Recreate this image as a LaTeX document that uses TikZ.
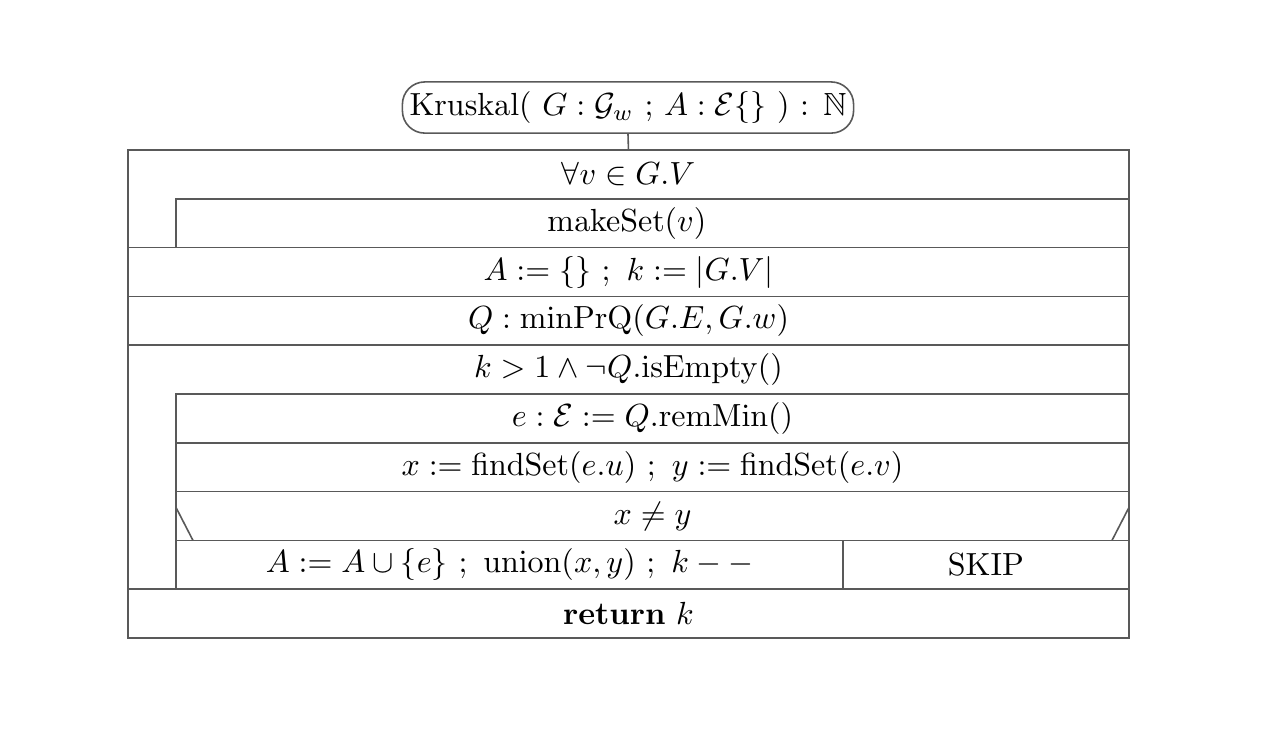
\documentclass[tikz,border=0pt]{standalone}
\usepackage{amsmath,amssymb}
\usetikzlibrary{positioning,calc}

\begin{document}
\begin{tikzpicture}[
  x=1pt, y=1pt, line width=0.5pt,
  row/.style={rectangle,minimum width=312.8pt,minimum height=15.25pt,
    inner sep=0pt,outer sep=0pt,anchor=north west},
  blk/.style={row,draw=black!65},
  sub/.style={blk,minimum width=297.8pt},
  frame/.style={draw=black!65},
  hdr/.style={draw=black!65,rounded corners=7pt,minimum width=141pt,
    minimum height=16pt,inner sep=0pt}
]
\useasboundingbox (0,0) rectangle (400,-233.1);

% Header
\node[hdr] (head) at (196.25,-33.6)
  {Kruskal( $G : \mathcal{G}_w$ ; $A : \mathcal{E}\{\}$ ) : $\mathbb{N}$};

% Loop over vertices
\node[row] (forall) at (40,-46.875) {$\forall v \in G.V$};
\node[sub, below right=0pt and 15pt of forall.south west,
  label={[xshift=-8pt]center:$\mathrm{makeSet}(v)$}] (mkset) {};
\draw[frame] (forall.north west) rectangle (mkset.south east);
\draw[frame] (head.south) -- (forall.north);

% Initialisation
\node[blk] (init) at (forall.south west |- mkset.south west)
  {$A := \{\}\ ;\ k := |G.V|$};
\node[blk, below=0pt of init] (queue) {$Q : \mathrm{minPrQ}(G.E, G.w)$};

% Main loop
\node[row, below=0pt of queue] (while) {$k > 1 \land \neg Q.\mathrm{isEmpty}()$};
\node[sub, below right=0pt and 15pt of while.south west] (remmin)
  {$e : \mathcal{E} := Q.\mathrm{remMin}()$};
\node[sub, below=0pt of remmin] (find)
  {$x := \mathrm{findSet}(e.u)\ ;\ y := \mathrm{findSet}(e.v)$};
\node[sub, below=0pt of find] (cond) {$x \neq y$};
\node[blk, minimum width=208.4pt] (then) at (cond.south west)
  {$A := A \cup \{e\}\ ;\ \mathrm{union}(x,y)\ ;\ k--$};
\node[blk, minimum width=89.4pt, right=0pt of then] (skip) {SKIP};
\draw[frame] ($(cond.south west)+(0,10.3)$) -- ($(cond.south west)+(5.3,0)$);
\draw[frame] ($(cond.south east)+(0,10.3)$) -- ($(cond.south east)+(-5.3,0)$);
\draw[frame] (while.north west) rectangle (skip.south east);

% Result
\node[blk] (ret) at (while.south west |- then.south) {\textbf{return} $k$};
\end{tikzpicture}
\end{document}
